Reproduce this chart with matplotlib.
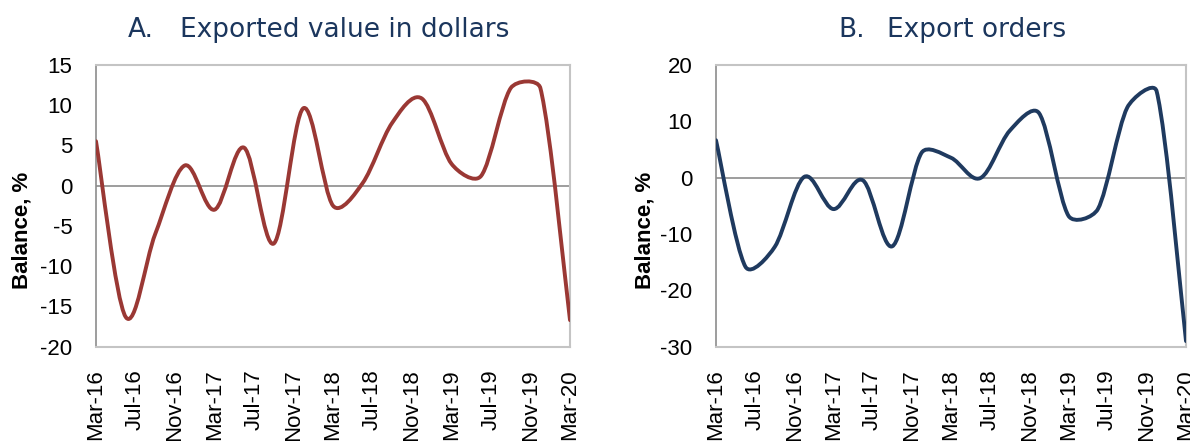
import numpy as np
import pandas as pd
import matplotlib
matplotlib.use("Agg")
import matplotlib.pyplot as plt
from matplotlib.path import Path
from matplotlib.patches import PathPatch

# ---------------- data ----------------
quarters = ['Mar-16', 'Jun-16', 'Sep-16', 'Dec-16', 'Mar-17', 'Jun-17', 'Sep-17', 'Dec-17',
            'Mar-18', 'Jun-18', 'Sep-18', 'Dec-18', 'Mar-19', 'Jun-19', 'Sep-19', 'Dec-19',
            'Mar-20']
exported_value = [5.5, -16.3, -6.0, 2.5, -3.0, 4.7, -7.2, 9.6,
                  -2.5, 0.3, 7.8, 10.8, 2.7, 1.2, 12.1, 12.1, -16.7]
export_orders = [6.6, -15.8, -12.3, 0.1, -5.6, -0.5, -12.2, 4.4,
                 3.5, -0.1, 8.3, 11.4, -6.8, -5.6, 12.4, 15.3, -29.0]
tick_labels = ['Mar-16', 'Jul-16', 'Nov-16', 'Mar-17', 'Jul-17', 'Nov-17', 'Mar-18',
               'Jul-18', 'Nov-18', 'Mar-19', 'Jul-19', 'Nov-19', 'Mar-20']
title_prefixes = ['A.', 'B.']
titles = ['Exported value in dollars', 'Export orders']
ylabel = 'Balance, %'

# ---------------- helpers ----------------
def month_index(labels):
    d = pd.to_datetime(labels, format='%b-%y')
    return np.array((d.year - 2016) * 12 + d.month - 3, dtype=float)

def smooth_patch(ax, x, y, color, lw, f=1/6, k=1/3):
    """Excel-like smoothed line: Catmull-Rom Bezier, control arms clipped
    to a fraction of the segment length (in display space)."""
    pts = ax.transData.transform(np.column_stack([x, y]))
    n = len(pts)
    vec = []
    for i in range(n):
        p = pts[max(i - 1, 0)]
        q = pts[min(i + 1, n - 1)]
        vec.append((q - p) * f)
    verts = [pts[0]]
    codes = [Path.MOVETO]
    for i in range(n - 1):
        seg = np.hypot(*(pts[i + 1] - pts[i]))
        a = vec[i]
        b = vec[i + 1]
        la, lb = np.hypot(*a), np.hypot(*b)
        if la > k * seg:
            a = a * (k * seg / la)
        if lb > k * seg:
            b = b * (k * seg / lb)
        verts += [pts[i] + a, pts[i + 1] - b, pts[i + 1]]
        codes += [Path.CURVE4] * 3
    verts = ax.transData.inverted().transform(np.array(verts))
    patch = PathPatch(Path(verts, codes), fill=False, edgecolor=color, lw=lw,
                      capstyle='round', joinstyle='round', zorder=3)
    ax.add_patch(patch)

# ---------------- figure ----------------
W, H = 1190, 441
fig = plt.figure(figsize=(W / 100, H / 100), dpi=100)

tick_font = 'Liberation Sans'
title_color = '#1B365D'

panels = [
    dict(left=96, right=570, data=exported_value, color='#9A3834', ylim=(-20, 15),
         yticks=np.arange(-20, 16, 5), pre_x=128, title_x=180, ylab_x=32),
    dict(left=716, right=1186, data=export_orders, color='#1F3A5F', ylim=(-30, 20),
         yticks=np.arange(-30, 21, 10), pre_x=838, title_x=887, ylab_x=656),
]
top, bottom = 64.7, 346.7

xq = month_index(quarters)
xt = month_index(tick_labels)

for i, p in enumerate(panels):
    ax = fig.add_axes([p['left'] / W, 1 - bottom / H,
                       (p['right'] - p['left']) / W, (bottom - top) / H])
    ax.set_xlim(xt[0], xt[-1])
    ax.set_ylim(*p['ylim'])
    ax.set_yticks(p['yticks'])
    ax.set_yticklabels([f'{v:d}' for v in p['yticks']], fontsize=16, family=tick_font)
    ax.set_xticks(xt)
    ax.set_xticklabels(tick_labels, rotation=90, fontsize=16, family=tick_font)
    ax.tick_params(axis='y', length=0, pad=17)
    ax.tick_params(axis='x', length=0, pad=16)
    for s in ['top', 'right', 'bottom']:
        ax.spines[s].set_color('#C4C4C4')
        ax.spines[s].set_linewidth(1.5)
    ax.spines['left'].set_color('#8C8C8C')
    ax.spines['left'].set_linewidth(1.2)
    ax.axhline(0, color='#8C8C8C', lw=1.2, zorder=2)
    ax.set_ylabel(ylabel, fontsize=16, fontweight='bold', family=tick_font)
    ax.yaxis.set_label_coords((p['ylab_x'] - p['left']) / (p['right'] - p['left']),
                              1 - (230 - top) / (bottom - top))
    smooth_patch(ax, xq, p['data'], p['color'], lw=2.8)
    fig.text(p['pre_x'] / W, 1 - 37 / H, title_prefixes[i], ha='left', va='baseline',
             fontsize=19, color=title_color, family='DejaVu Sans')
    fig.text(p['title_x'] / W, 1 - 37 / H, titles[i], ha='left', va='baseline',
             fontsize=19, color=title_color, family='DejaVu Sans')

fig.savefig('out.png', dpi=100)
